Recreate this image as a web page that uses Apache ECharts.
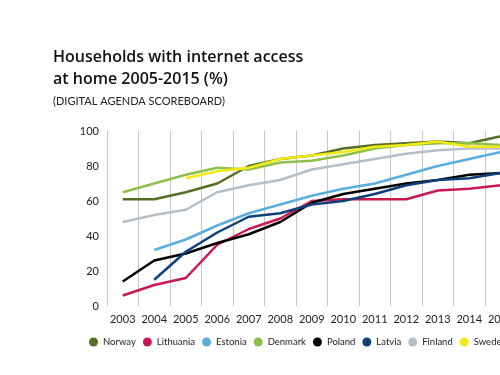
<!DOCTYPE html>
<html>
<head>
<meta charset="utf-8">
<script src="https://cdn.jsdelivr.net/npm/echarts@6/dist/echarts.min.js"></script>
<style>
  html, body { margin: 0; padding: 0; background: #fff; overflow: hidden; width: 500px; height: 375px; }
  /* the original graphic is wider than the frame and gets cut at the right edge */
  #main { width: 620px; height: 375px; }
</style>
</head>
<body>
<div id="main"></div>
<script>
// years on the x axis
var years = ['2003', '2004', '2005', '2006', '2007', '2008', '2009', '2010', '2011', '2012', '2013', '2014', '2015'];

// % of households with internet access
var norway    = [61, 61, 65, 70, 80, 84, 86, 90, 92, 93, 94, 93, 97];
var lithuania = [6, 12, 16, 35, 44, 50, 60, 61, 61, 61, 66, 67, 69];
var estonia   = [null, 32, 38, 46, 53, 58, 63, 67, 70, 75, 80, 84, 88];
var denmark   = [65, 70, 75, 79, 78, 82, 83, 86, 90, 92, 93, 93, 92];
var poland    = [14, 26, 30, 36, 41, 48, 59, 64, 67, 70, 72, 75, 76];
var latvia    = [null, 15, 31, 42, 51, 53, 58, 60, 64, 69, 72, 73, 76];
var finland   = [48, 52, 55, 65, 69, 72, 78, 81, 84, 87, 89, 90, 90];
var sweden    = [null, null, 73, 77, 79, 84, 86, 88, 91, 92, 94, 91, 91];

var countries = ['Norway', 'Lithuania', 'Estonia', 'Denmark', 'Poland', 'Latvia', 'Finland', 'Sweden'];
var values = [norway, lithuania, estonia, denmark, poland, latvia, finland, sweden];
var colors = ['#546f24', '#c91a4d', '#5aaede', '#8dc04b', '#000000', '#0d3f7a', '#b5bfc8', '#f3e914'];

var font = 'Lato, "Open Sans", sans-serif';

function makeSeries(name, i) {
    return {
        name: name,
        type: 'line',
        data: values[i],
        showSymbol: false,
        symbol: 'circle',
        lineStyle: { width: 2.5, color: colors[i] },
        itemStyle: { color: colors[i] },
        emphasis: { disabled: true }
    };
}

var myChart = echarts.init(document.getElementById('main'));
var option = {
    animation: false,
    textStyle: { fontFamily: font },
    title: {
        text: 'Households with internet access\nat home 2005-2015 (%)',
        subtext: '(DIGITAL AGENDA SCOREBOARD)',
        left: 48,
        top: 41,
        itemGap: 4,
        textStyle: { fontFamily: '"Open Sans", sans-serif', fontSize: 16, fontWeight: 600, color: '#111', lineHeight: 22 },
        subtextStyle: { fontFamily: font, fontSize: 11, color: '#222', lineHeight: 14 }
    },
    legend: {
        data: countries,
        left: 89,
        top: 337,
        padding: 0,
        icon: 'circle',
        itemWidth: 9,
        itemHeight: 9,
        itemGap: 7,
        textStyle: { fontFamily: font, fontSize: 9.5, color: '#222' }
    },
    grid: {
        left: 107,
        top: 131,
        width: 409.5,
        height: 175,
        outerBoundsMode: 'none'
    },
    xAxis: {
        type: 'category',
        data: years,
        boundaryGap: true,
        axisLine: { show: false },
        axisTick: { show: false },
        axisLabel: { color: '#222', fontSize: 11, margin: 8, interval: 0 },
        splitLine: { show: true, lineStyle: { color: '#c8c8c8', width: 1 } }
    },
    yAxis: {
        type: 'value',
        min: 0,
        max: 100,
        interval: 20,
        axisLine: { show: false },
        axisTick: { show: false },
        splitLine: { show: false },
        axisLabel: { color: '#222', fontSize: 11, margin: 8 }
    },
    series: countries.map(makeSeries)
};
myChart.setOption(option);
</script>
</body>
</html>
